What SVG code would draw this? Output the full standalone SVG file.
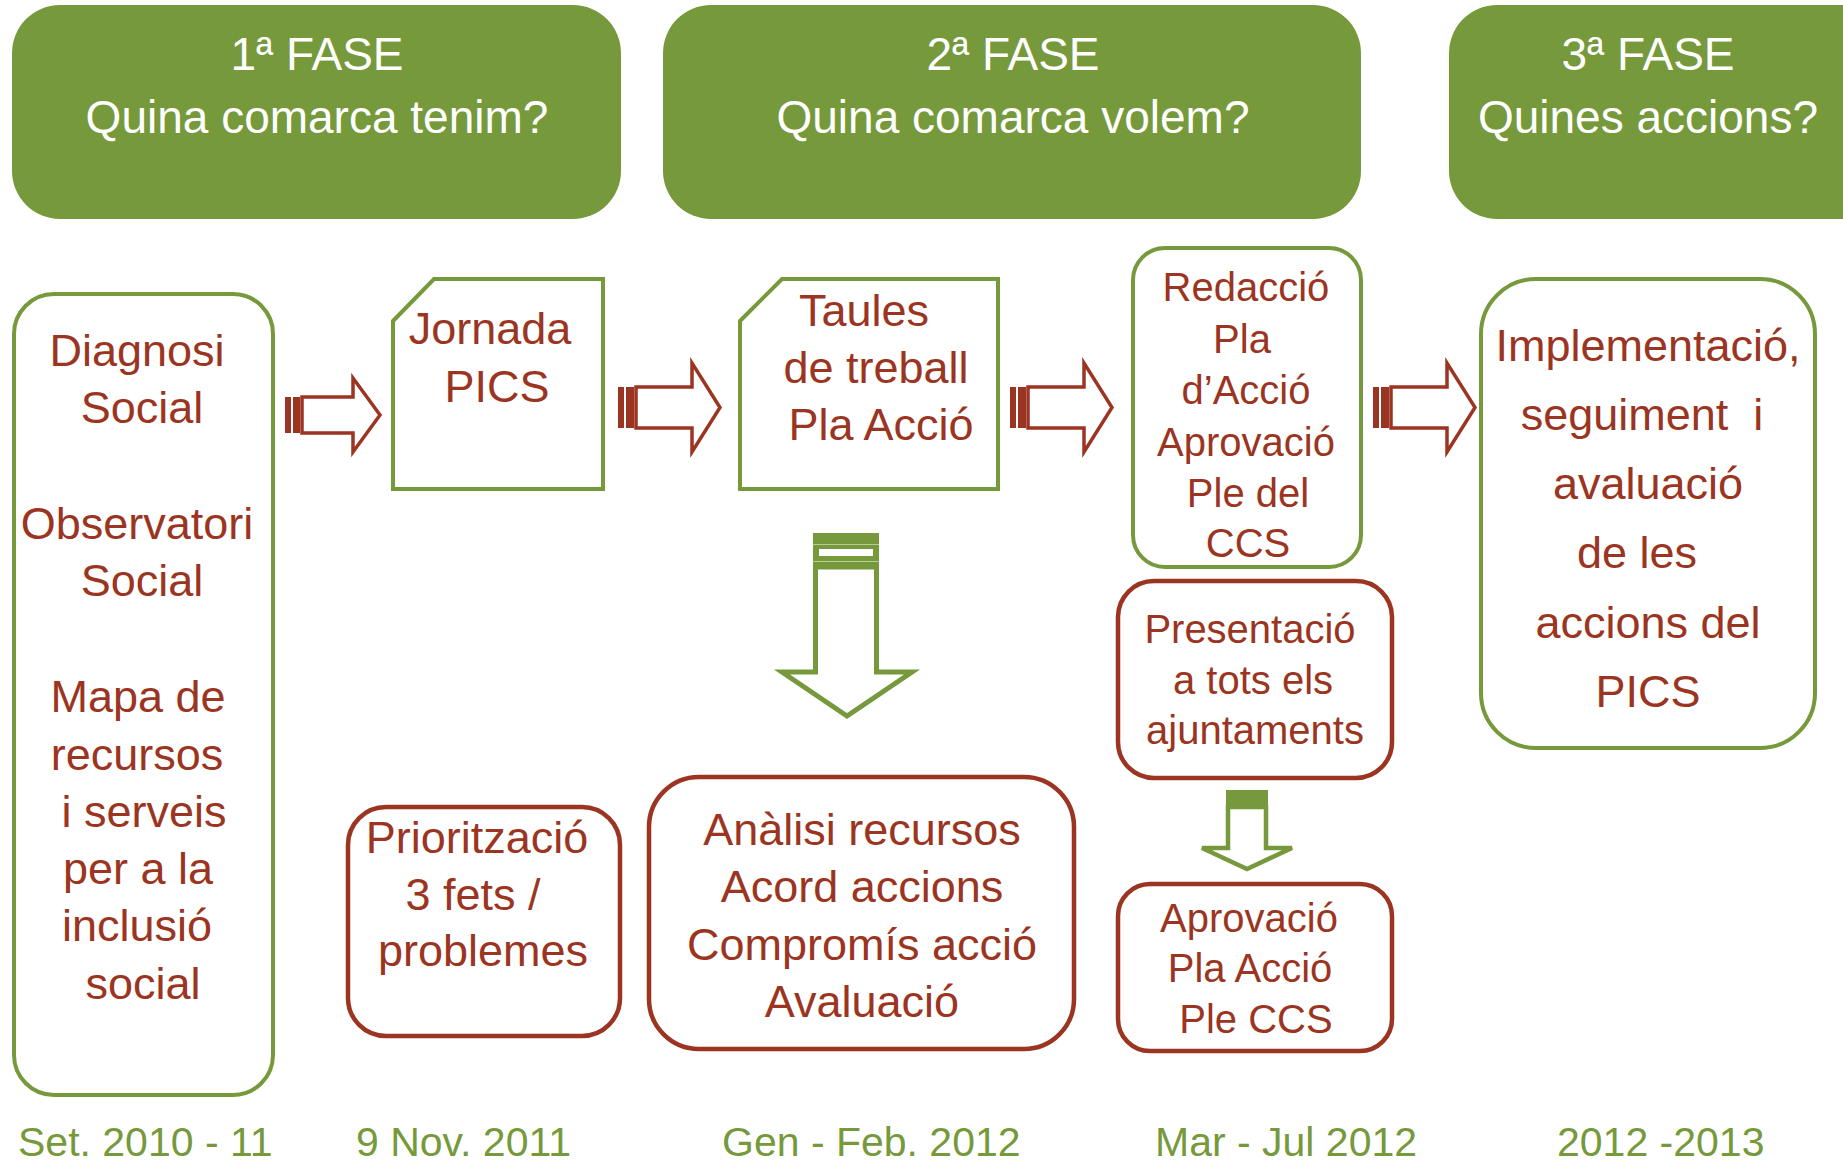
<svg xmlns="http://www.w3.org/2000/svg" width="1843" height="1166" viewBox="0 0 1843 1166">
<defs>
<style>
.hdr{fill:#76993c}
.htxt{font-family:"Liberation Sans",Arial,sans-serif;font-size:46px;fill:#ffffff;text-anchor:middle}
.gbox{fill:#ffffff;stroke:#76993c;stroke-width:4}
.rbox{fill:#ffffff;stroke:#9b3522;stroke-width:4.5}
.t{font-family:"Liberation Sans",Arial,sans-serif;font-size:45px;fill:#9b3522;text-anchor:middle}
.t40{font-family:"Liberation Sans",Arial,sans-serif;font-size:40px;fill:#9b3522;text-anchor:middle}
.date{font-family:"Liberation Sans",Arial,sans-serif;font-size:41px;fill:#76993c}
.rarrow{fill:#ffffff;stroke:#9b3522;stroke-width:3.5;stroke-linejoin:miter}
.rstripe{fill:#9b3522}
.garrow{fill:#ffffff;stroke:#76993c;stroke-linejoin:miter}
.gstripe{fill:#76993c}
</style>
<g id="rightArrow">
<rect class="rstripe" x="0" y="-20.5" width="6" height="41"/>
<rect class="rstripe" x="8" y="-20.5" width="8" height="41"/>
<polygon class="rarrow" points="18,-20.5 74,-20.5 74,-44.5 102,0 74,44.5 74,20.5 18,20.5"/>
</g>
</defs>

<g id="phase1">
<rect class="hdr" x="12" y="5" width="609" height="214" rx="48"/>
<text class="htxt" x="317" y="70">1ª FASE</text>
<text class="htxt" x="317" y="133">Quina comarca tenim?</text>
</g>
<g id="phase2">
<rect class="hdr" x="663" y="5" width="698" height="214" rx="48"/>
<text class="htxt" x="1013" y="70">2ª FASE</text>
<text class="htxt" x="1013" y="133">Quina comarca volem?</text>
</g>
<g id="phase3">
<rect class="hdr" x="1449" y="5" width="440" height="214" rx="48"/>
<text class="htxt" x="1648" y="70">3ª FASE</text>
<text class="htxt" x="1648" y="133">Quines accions?</text>
</g>

<g id="diagnosi">
<rect class="gbox" x="14" y="294" width="259" height="801" rx="40"/>
<text class="t" x="137" y="366">Diagnosi</text>
<text class="t" x="142" y="423">Social</text>
<text class="t" x="137" y="539">Observatori</text>
<text class="t" x="142" y="596">Social</text>
<text class="t" x="138" y="712">Mapa de</text>
<text class="t" x="137" y="770">recursos</text>
<text class="t" x="144" y="827">i serveis</text>
<text class="t" x="138" y="884">per a la</text>
<text class="t" x="137" y="941">inclusió</text>
<text class="t" x="143" y="999">social</text>
</g>

<g id="jornada">
<polygon class="gbox" points="393,321 434,279 603,279 603,489 393,489"/>
<text class="t" x="490" y="344">Jornada</text>
<text class="t" x="497" y="402">PICS</text>
</g>

<g id="taules">
<polygon class="gbox" points="740,321 782,279 998,279 998,489 740,489"/>
<text class="t" x="864" y="326">Taules</text>
<text class="t" x="876" y="383">de treball</text>
<text class="t" x="881" y="440">Pla Acció</text>
</g>

<g id="redaccio">
<rect class="gbox" x="1133" y="248" width="228" height="319" rx="32"/>
<text class="t40" x="1246" y="301">Redacció</text>
<text class="t40" x="1242" y="353">Pla</text>
<text class="t40" x="1246" y="404">d’Acció</text>
<text class="t40" x="1246" y="456">Aprovació</text>
<text class="t40" x="1248" y="507">Ple del</text>
<text class="t40" x="1248" y="557">CCS</text>
</g>

<g id="implementacio">
<rect class="gbox" x="1481" y="279" width="334" height="469" rx="55"/>
<text class="t" x="1648" y="361">Implementació,</text>
<text class="t" x="1642" y="430" xml:space="preserve">seguiment  i</text>
<text class="t" x="1648" y="499">avaluació</text>
<text class="t" x="1637" y="568">de les</text>
<text class="t" x="1648" y="638">accions del</text>
<text class="t" x="1648" y="707">PICS</text>
</g>

<g id="prioritzacio">
<rect class="rbox" x="348" y="807" width="272" height="229" rx="38"/>
<text class="t" x="477" y="853">Priorització</text>
<text class="t" x="473" y="910">3 fets /</text>
<text class="t" x="483" y="966">problemes</text>
</g>

<g id="analisi">
<rect class="rbox" x="649" y="777" width="425" height="272" rx="50"/>
<text class="t" x="862" y="845">Anàlisi recursos</text>
<text class="t" x="862" y="902">Acord accions</text>
<text class="t" x="862" y="960">Compromís acció</text>
<text class="t" x="862" y="1017">Avaluació</text>
</g>

<g id="presentacio">
<rect class="rbox" x="1118" y="581" width="274" height="197" rx="36"/>
<text class="t40" x="1250" y="643">Presentació</text>
<text class="t40" x="1253" y="694">a tots els</text>
<text class="t40" x="1255" y="744">ajuntaments</text>
</g>

<g id="aprovacio">
<rect class="rbox" x="1118" y="884" width="274" height="167" rx="32"/>
<text class="t40" x="1249" y="932">Aprovació</text>
<text class="t40" x="1250" y="982">Pla Acció</text>
<text class="t40" x="1256" y="1033">Ple CCS</text>
</g>

<g id="connectors">
<g id="arrow1">
<rect class="rstripe" x="285" y="397" width="6" height="36"/>
<rect class="rstripe" x="293" y="397" width="7" height="36"/>
<polygon class="rarrow" points="302,397 353,397 353,378 380,415 353,452 353,433 302,433"/>
</g>
<use href="#rightArrow" transform="translate(618,407.5)"/>
<use href="#rightArrow" transform="translate(1010,407.5)"/>
<use href="#rightArrow" transform="translate(1373,407.5)"/>
<g id="downBig">
<rect class="gstripe" x="813" y="533" width="66" height="34"/>
<rect fill="#ffffff" x="819" y="549" width="54" height="7"/>
<line x1="813" y1="544.5" x2="879" y2="544.5" stroke="#b7cc95" stroke-width="1"/>
<line x1="813" y1="561.5" x2="879" y2="561.5" stroke="#b7cc95" stroke-width="1"/>
<polygon class="garrow" stroke-width="5" points="815.5,567 815.5,672 782,672 847,716 912,672 876.5,672 876.5,567"/>
</g>
<g id="downSmall">
<rect class="gstripe" x="1226" y="790" width="42" height="17"/>
<polygon class="garrow" stroke-width="4.5" points="1228,807 1228,848 1202,848 1247,869 1292,848 1266,848 1266,807"/>
</g>
</g>

<g id="dates">
<text class="date" x="18" y="1156">Set. 2010 - 11</text>
<text class="date" x="356" y="1156">9 Nov. 2011</text>
<text class="date" x="722" y="1156">Gen - Feb. 2012</text>
<text class="date" x="1155" y="1156">Mar - Jul 2012</text>
<text class="date" x="1557" y="1156">2012 -2013</text>
</g>
</svg>
